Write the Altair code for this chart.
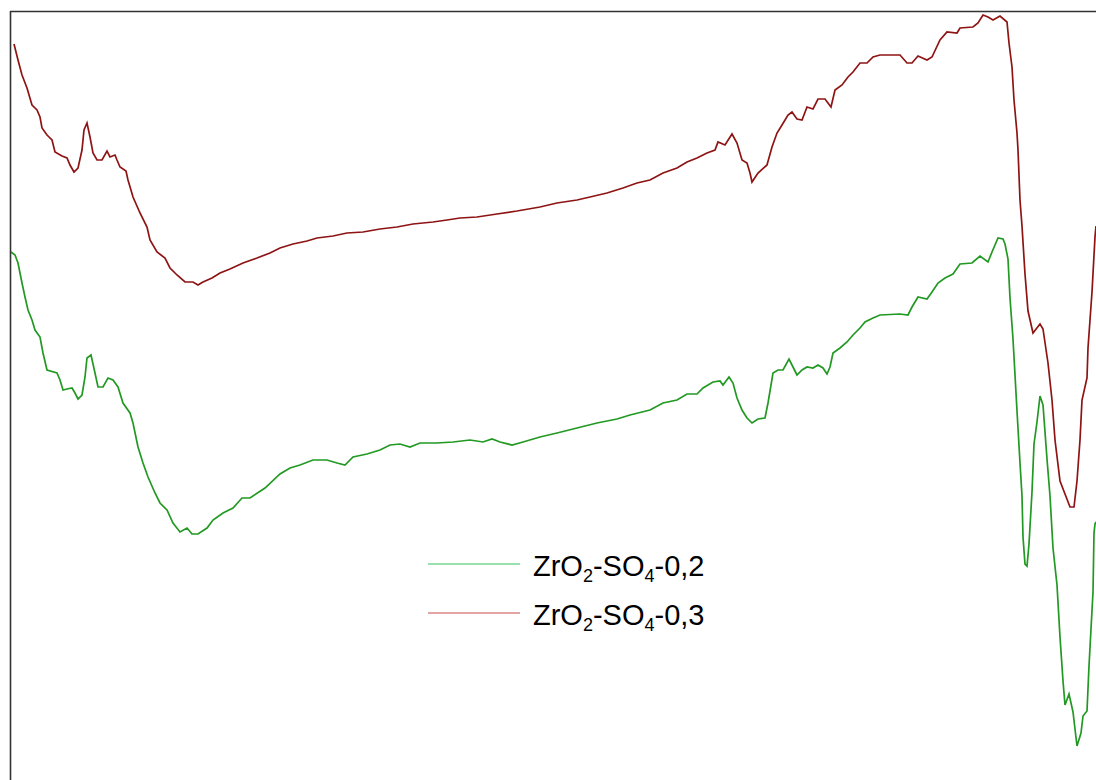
import altair as alt
import pandas as pd

# Two spectra, traced as (position, level) pairs; level grows downward on screen.
red_x = [14, 18, 22, 27, 32, 37, 40, 42, 47, 52, 55, 62, 67, 70, 74, 78, 82, 84, 87, 90,
         93, 97, 102, 107, 110, 115, 117, 120, 126, 128, 133, 140, 147, 150, 157, 165, 170, 177, 185, 193,
         198, 203, 212, 220, 230, 243, 257, 270, 280, 293, 307, 317, 333, 347, 363, 380, 397, 413, 433, 447,
         460, 477, 497, 517, 540, 557, 577, 590, 607, 623, 637, 650, 663, 677, 687, 697, 707, 715, 718, 725,
         732, 737, 742, 747, 750, 752, 758, 767, 772, 777, 782, 788, 792, 797, 802, 807, 813, 818, 825, 831,
         835, 842, 848, 853, 860, 867, 873, 880, 900, 907, 912, 918, 927, 932, 940, 947, 957, 960, 973, 978,
         983, 988, 993, 1000, 1007, 1009, 1012, 1014, 1017, 1018, 1020, 1022, 1025, 1028, 1033, 1040, 1043, 1048, 1052, 1055,
         1060, 1065, 1070, 1074, 1077, 1080, 1082, 1087, 1088, 1092, 1095, 1096]
red_y = [44, 60, 75, 88, 105, 110, 117, 128, 135, 140, 152, 156, 158, 165, 172, 168, 150, 130, 123, 137,
         153, 160, 160, 151, 157, 155, 160, 167, 171, 180, 197, 213, 227, 240, 252, 258, 268, 275, 282, 282,
         285, 282, 278, 273, 269, 263, 258, 253, 248, 244, 241, 238, 236, 233, 232, 229, 227, 224, 222, 220,
         218, 217, 214, 211, 207, 203, 200, 197, 193, 188, 183, 180, 173, 168, 162, 158, 153, 150, 142, 145,
         134, 143, 160, 163, 173, 182, 173, 165, 147, 133, 125, 115, 112, 119, 120, 107, 109, 99, 99, 107,
         90, 85, 77, 72, 63, 63, 57, 55, 55, 63, 63, 56, 60, 57, 40, 32, 33, 28, 27, 23,
         15, 17, 20, 16, 22, 43, 67, 100, 133, 150, 200, 226, 274, 311, 333, 324, 329, 363, 400, 440,
         481, 494, 507, 507, 481, 440, 400, 378, 348, 292, 237, 226]

green_x = [11, 15, 18, 22, 25, 28, 32, 35, 40, 43, 47, 57, 60, 63, 67, 72, 75, 78, 82, 85,
           87, 91, 95, 98, 103, 108, 113, 118, 123, 130, 133, 138, 143, 148, 155, 160, 167, 173, 180, 187,
           192, 198, 207, 213, 223, 233, 242, 250, 265, 280, 290, 300, 313, 327, 337, 345, 353, 367, 380, 390,
           400, 410, 420, 437, 453, 470, 483, 492, 500, 512, 523, 540, 557, 577, 597, 617, 630, 650, 663, 677,
           687, 697, 703, 713, 720, 723, 729, 733, 737, 742, 747, 752, 758, 765, 768, 773, 778, 783, 789, 793,
           797, 802, 807, 813, 818, 823, 827, 830, 833, 840, 847, 853, 860, 865, 873, 880, 900, 908, 912, 918,
           927, 932, 938, 945, 953, 960, 972, 980, 988, 992, 998, 1003, 1005, 1008, 1010, 1013, 1017, 1020, 1022, 1023,
           1025, 1027, 1029, 1032, 1034, 1037, 1040, 1043, 1047, 1050, 1053, 1057, 1060, 1063, 1065, 1069, 1073, 1075, 1077, 1081,
           1083, 1087, 1089, 1093, 1094, 1095, 1096]
green_y = [252, 255, 263, 283, 297, 310, 320, 330, 337, 353, 370, 373, 380, 390, 389, 388, 393, 399, 395, 377,
           358, 355, 373, 387, 387, 378, 380, 387, 403, 413, 423, 447, 463, 477, 493, 503, 510, 523, 532, 528,
           534, 534, 528, 520, 513, 508, 498, 498, 488, 474, 468, 465, 460, 460, 463, 465, 457, 454, 450, 445,
           444, 447, 443, 443, 442, 440, 442, 439, 442, 445, 442, 437, 433, 428, 423, 419, 415, 410, 403, 400,
           394, 394, 388, 382, 381, 385, 377, 383, 398, 410, 418, 423, 419, 418, 403, 373, 370, 370, 359, 367,
           375, 370, 367, 368, 365, 368, 374, 367, 353, 348, 342, 335, 328, 322, 318, 315, 314, 315, 307, 297,
           299, 292, 283, 278, 274, 264, 263, 256, 262, 252, 238, 239, 244, 259, 298, 339, 411, 463, 496, 537,
           564, 566, 544, 492, 444, 422, 396, 405, 459, 496, 548, 585, 637, 681, 705, 694, 712, 729, 746, 733,
           716, 711, 666, 592, 533, 524, 522]

series_names = ["ZrO2-SO4-0,2", "ZrO2-SO4-0,3"]
series_colors = ["#229922", "#8e1414"]
legend_colors = ["#2ec45e", "#cc4a4a"]
# each legend label as (text, is_subscript) runs
legend_runs = [
    [("ZrO", False), ("2", True), ("-SO", False), ("4", True), ("-0,2", False)],
    [("ZrO", False), ("2", True), ("-SO", False), ("4", True), ("-0,3", False)],
]

W, H = 1086, 769
X0, Y0 = 10, 11

xs = alt.Scale(domain=[X0, X0 + W])
ys = alt.Scale(domain=[Y0, Y0 + H], reverse=True)

df = pd.concat([
    pd.DataFrame({"pos": green_x, "level": green_y, "series": series_names[0], "order": range(len(green_x))}),
    pd.DataFrame({"pos": red_x, "level": red_y, "series": series_names[1], "order": range(len(red_x))}),
])

lines = alt.Chart(df).mark_line(strokeWidth=1.7, clip=True).encode(
    x=alt.X("pos:Q", scale=xs, axis=None),
    y=alt.Y("level:Q", scale=ys, axis=None),
    color=alt.Color("series:N", scale=alt.Scale(domain=series_names, range=series_colors), legend=None),
    order="order:Q",
)

# frame: left and top edges only
frame_left = alt.Chart(pd.DataFrame({"a": [0]})).mark_rule(color="#333333", strokeWidth=1.6).encode(
    x=alt.value(0.5), y=alt.value(0), y2=alt.value(H)
)
frame_top = alt.Chart(pd.DataFrame({"a": [0]})).mark_rule(color="#333333", strokeWidth=1.6).encode(
    y=alt.value(0.5), x=alt.value(0), x2=alt.value(W)
)

# in-plot legend: sample lines
leg = pd.DataFrame({"name": series_names, "color": legend_colors, "ly": [553, 602]})
leg_lines = alt.Chart(leg).mark_rule(strokeWidth=1.2).encode(
    x=alt.value(418), x2=alt.value(510),
    y=alt.Y("ly:Q", scale=None),
    color=alt.Color("color:N", scale=None),
)

# in-plot legend: labels laid out run by run with Arial advance widths
ADV = {"Z": 0.611, "r": 0.333, "O": 0.778, "S": 0.667, "-": 0.333, ",": 0.278,
       "0": 0.556, "2": 0.556, "3": 0.556, "4": 0.556}
BASE_FS, SUB_FS, SUB_DROP = 29, 18, 6
rows = []
for runs, base_y in zip(legend_runs, [565, 614]):
    cx = 523.0
    for txt, sub in runs:
        fs = SUB_FS if sub else BASE_FS
        rows.append({"t": txt, "tx": cx, "ty": base_y + (SUB_DROP if sub else 0), "fs": fs})
        cx += sum(ADV[c] for c in txt) * fs
label_df = pd.DataFrame(rows)
leg_text = alt.Chart(label_df).mark_text(
    align="left", baseline="alphabetic", font="Liberation Sans", color="#000000"
).encode(
    x=alt.X("tx:Q", scale=None),
    y=alt.Y("ty:Q", scale=None),
    size=alt.Size("fs:Q", scale=None),
    text="t:N",
)

chart = alt.layer(lines, frame_left, frame_top, leg_lines, leg_text).properties(
    width=W, height=H,
    padding={"left": X0, "top": Y0, "right": 0, "bottom": 0},
    autosize="none",
    background="#ffffff",
).configure_view(stroke=None)

chart.save("out.html", embed_options={"renderer": "svg", "actions": False})
